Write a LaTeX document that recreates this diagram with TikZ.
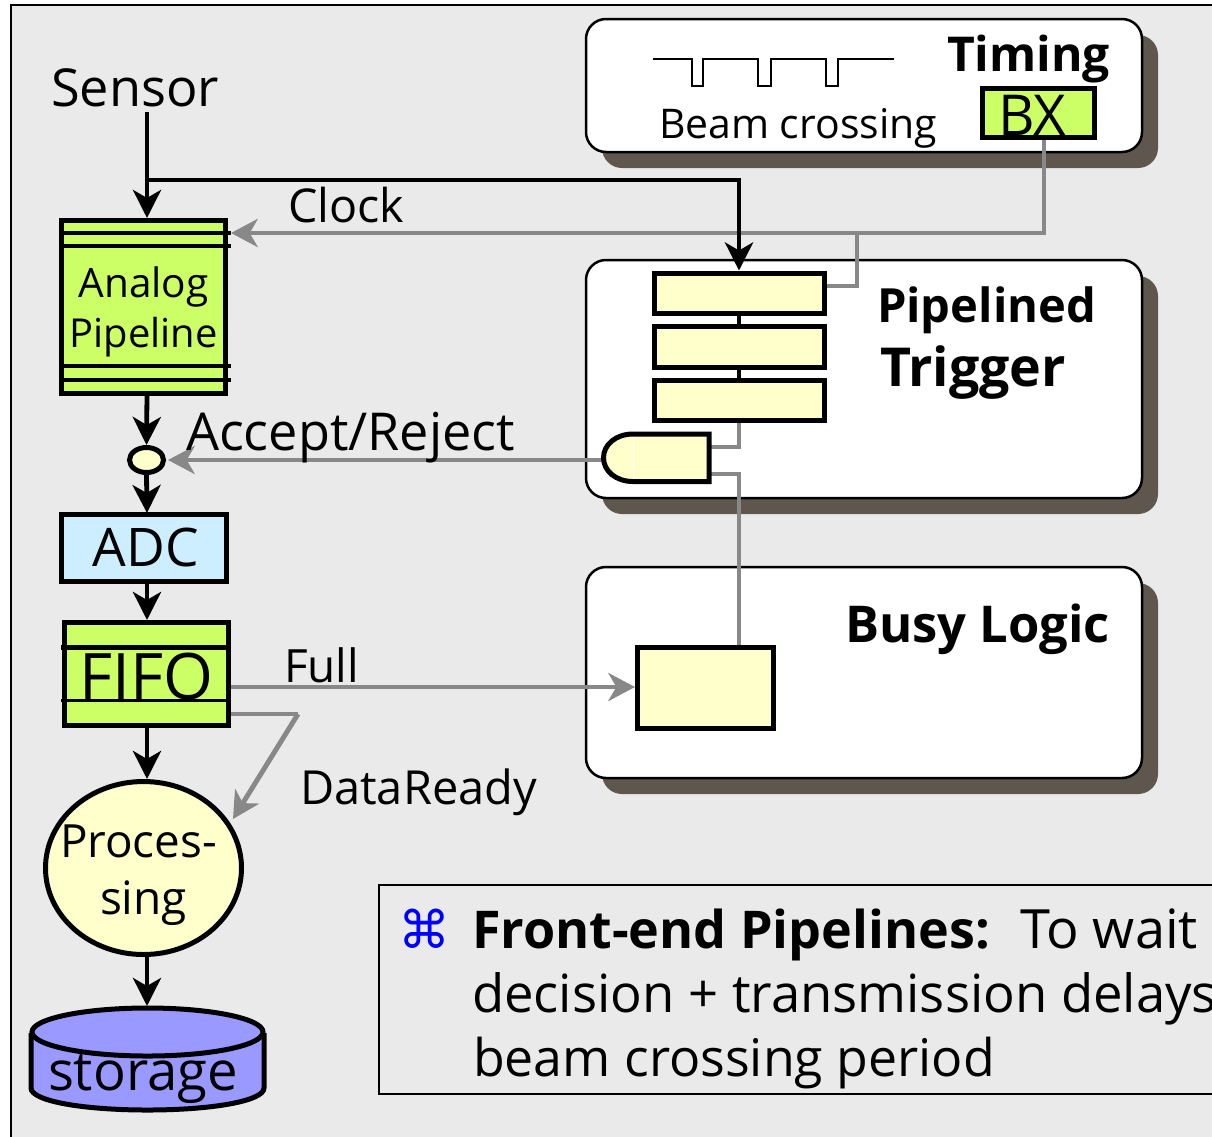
\documentclass[tikz,border=0pt]{standalone}
\usepackage{graphicx}
\usepackage{fontspec}
\setmainfont{Open Sans}
\newfontfamily\symfont{DejaVu Sans}
\usetikzlibrary{arrows.meta,shapes.geometric}
\newlength\pxu \setlength\pxu{.75pt}
\newcommand{\fitw}[2]{\resizebox{#1\pxu}{!}{\fontsize{30}{36}\selectfont #2}}
\newcommand{\fitb}[2]{\resizebox{#1\pxu}{!}{\fontsize{30}{36}\selectfont\bfseries #2}}
\newcommand{\lowered}[2]{\raisebox{-#1\pxu}[0pt][0pt]{#2}}
\definecolor{bgc}{HTML}{EAEAEA}
\definecolor{shade}{HTML}{5F574D}
\definecolor{lime}{HTML}{CCFF66}
\definecolor{cream}{HTML}{FFFFCC}
\definecolor{sky}{HTML}{CCEEFF}
\definecolor{violetb}{HTML}{9999FF}
\definecolor{wire}{HTML}{888888}
\tikzset{
  panel/.style={draw=black,fill=white,line width=1.875pt,rounded corners=15pt,inner sep=0pt},
  shadowbox/.style={fill=shade,rounded corners=15pt},
  unitbox/.style={draw=black,line width=3.75pt,inner sep=0pt,font=\fontsize{12}{37.5pt}\selectfont,align=center},
  txt/.style={anchor=base west,inner sep=0pt,outer sep=0pt},
  blackflow/.style={draw=black,line width=3.6pt,-{Stealth[length=21pt,width=21pt,inset=6pt]}},
  blackwire/.style={draw=black,line width=3.6pt},
  grayflow/.style={draw=wire,line width=3.7pt,-{Stealth[length=20pt,width=21pt,inset=6pt]}},
  graywire/.style={draw=wire,line width=3.7pt},
}
\begin{document}
\begin{tikzpicture}[x=.75pt,y=-.75pt]
\useasboundingbox (0,0) rectangle (1212,1136);
\clip (0,0) rectangle (1212,1136);
% page background
\fill[white] (0,0) rectangle (1212,1136);
\filldraw[fill=bgc,draw=black,line width=1.875pt] (11,5) rectangle (1260,1190);
% shadows
\fill[shadowbox] (602,35) rectangle (1158,168);
\fill[shadowbox] (602,276) rectangle (1158,514);
\fill[shadowbox] (602,583) rectangle (1158,794);
% panels
\node[panel,minimum width=417pt,minimum height=99.75pt] (timing) at (864,85.5) {};
\node[panel,minimum width=417pt,minimum height=178.5pt] (trigger) at (864,379) {};
\node[panel,minimum width=417pt,minimum height=158.25pt] (busy) at (864,672.5) {};
% note box
\draw[black,line width=1.5pt] (1212,885) -- (379,885) -- (379,1094) -- (1212,1094);
% named connection points
\coordinate (sensorOut) at (147,112);
\coordinate (branch) at (147,180);
\coordinate (bxOut) at (1044,139);
\coordinate (clockJoin) at (857,233);
\coordinate (clockIn) at (231,233);
\coordinate (bendBX) at (1044,233);
\coordinate (box1In) at (825,286);
\coordinate (box1Bend) at (857,286);
\coordinate (gateA) at (710,447);
\coordinate (gateB) at (710,474);
\coordinate (gateOut) at (603,460);
\coordinate (busyIn) at (739,647);
\coordinate (fifoFull) at (230,687);
\coordinate (fifoReady) at (230,714);
\coordinate (readyBend) at (298,714);
\coordinate (procIn) at (233,819);
% gray wires
\draw[graywire] (bxOut) -- (bendBX) -- (clockJoin);
\draw[grayflow] (clockJoin) -- (clockIn);
\draw[graywire] (clockJoin) -- (box1Bend) -- (box1In);
\draw[graywire] (739,420) -- (739,447) -- (gateA);
\draw[graywire] (gateB) -- (739,474) -- (busyIn);
\draw[grayflow] (gateOut) -- (168,460);
\draw[grayflow] (fifoFull) -- (635,687);
\draw[graywire] (fifoReady) -- (readyBend);
\draw[grayflow,line join=miter] (readyBend) -- (procIn);
% pulse train
\draw[black,line width=1.875pt] (653,59) -- (692,59) -- (692,86) -- (703,86) -- (703,59)
  -- (758,59) -- (758,86) -- (771,86) -- (771,59)
  -- (826,59) -- (826,86) -- (838,86) -- (838,59) -- (894,59);
% units
\node[unitbox,fill=lime,minimum width=84pt,minimum height=36.75pt] (bx) at (1038.5,112.5) {\hspace*{-13\pxu}\lowered{22.5}{\fitw{68}{BX}}};
\node[unitbox,fill=cream,minimum width=127.5pt,minimum height=30pt] (box1) at (739,293) {};
\node[unitbox,fill=cream,minimum width=127.5pt,minimum height=30.75pt] (box2) at (739,346.5) {};
\node[unitbox,fill=cream,minimum width=127.5pt,minimum height=30pt] (box3) at (739,400) {};
\node[unitbox,fill=cream,minimum width=102pt,minimum height=60.75pt] (busybox) at (705,687.5) {};
\draw[blackwire] (box1) -- (box2);
\draw[blackwire] (box2) -- (box3);
% AND gate
\draw[black,fill=cream,line width=3.75pt] (633,434) -- (709,434) -- (709,481.5) -- (633,481.5)
  .. controls (616,481.5) and (603.5,471) .. (603.5,457.75)
  .. controls (603.5,444.5) and (616,434) .. (633,434) -- cycle;
\draw[white,line width=.6pt] (633,437) -- (633,479);
% left chain
\node[unitbox,fill=lime,minimum width=123pt,minimum height=130.1pt] (analog) at (143.5,306.75) {\lowered{15.25}{\fitw{130}{Analog}}\\\lowered{15.25}{\fitw{148}{Pipeline}}};
\foreach \yy in {233,246,366,380} \draw[blackwire] (61,\yy) -- (231,\yy);
\node[ellipse,draw=black,fill=cream,line width=3.75pt,inner sep=0pt,minimum width=25.5pt,minimum height=18.75pt] (gatec) at (146.5,460) {};
\node[unitbox,fill=sky,minimum width=123.75pt,minimum height=50.25pt] (adc) at (143.5,547.5) {\hspace*{5\pxu}\lowered{18.5}{\fitw{106}{ADC}}};
\node[unitbox,fill=lime,minimum width=123pt,minimum height=76.9pt] (fifo) at (146.5,673.75) {\lowered{25.25}{\fitw{134}{FIFO}}};
\draw[black,line width=3.75pt] (61,647) -- (228,647);
\draw[black,line width=2.8pt] (61,700.5) -- (228,700.5);
\node[ellipse,draw=black,fill=cream,line width=3.75pt,inner sep=0pt,minimum width=147pt,minimum height=129.75pt] (proc) at (143.5,868) {};
\node[txt] (proclabela) at (60,857) {\fitw{157}{Proces-}};
\node[txt] (proclabelb) at (100,914) {\fitw{87}{sing}};
% storage
\draw[black,fill=violetb,line width=3.75pt] (31,1033) -- (31,1088)
  .. controls (31,1101) and (83,1110) .. (147.5,1110)
  .. controls (212,1110) and (264,1101) .. (264,1088) -- (264,1033);
\node[ellipse,draw=black,fill=violetb,line width=3.75pt,inner sep=0pt,minimum width=173.25pt,minimum height=36pt] (store) at (147.5,1032) {};
\node[txt] (storelabel) at (48,1090) {\fitw{190}{storage}};
% black flows
\draw[blackwire] (sensorOut) -- (branch);
\draw[blackflow] (branch) -- (147,218);
\draw[blackflow,line join=miter] (branch) -- (739,180) -- (box1.north);
\draw[blackflow] (147,395) -- (gatec.north);
\draw[blackflow] (gatec.south) -- (147,513);
\draw[blackflow] (147,581) -- (147,620);
\draw[blackflow] (147,727) -- (147,779);
\draw[blackflow] (147,957) -- (147,1006);
% labels
\node[txt] (sensor) at (51,106) {\fitw{168}{Sensor}};
\node[txt] (clock) at (288,222) {\fitw{116}{Clock}};
\node[txt] (accept) at (186,450) {\fitw{329}{Accept/Reject}};
\node[txt] (full) at (284,682) {\fitw{75}{Full}};
\node[txt] (dataready) at (300,804) {\fitw{237}{DataReady}};
\node[txt] (beam) at (659,138) {\fitw{278}{Beam crossing}};
\node[txt] (timinglabel) at (947,71) {\fitb{163}{Timing}};
\node[txt] (pipelined) at (877,322) {\fitb{219}{Pipelined}};
\node[txt] (triggerlabel) at (880,386) {\fitb{186}{Trigger}};
\node[txt] (busylabel) at (845,642) {\fitb{265}{Busy Logic}};
% note text
\node[txt,text=blue] (bullet) at (398,948) {\resizebox{52\pxu}{!}{\symfont ⌘}};
\node[txt] (fe) at (472,948) {\fitb{518}{Front-end Pipelines:}};
\node[txt] (towait) at (1020,948) {\fitw{178}{To wait}};
\node[txt] (dec) at (472,1012) {\fitw{745}{decision + transmission delays}};
\node[txt] (beamp) at (473,1076) {\fitw{522}{beam crossing period}};
\end{tikzpicture}
\end{document}
